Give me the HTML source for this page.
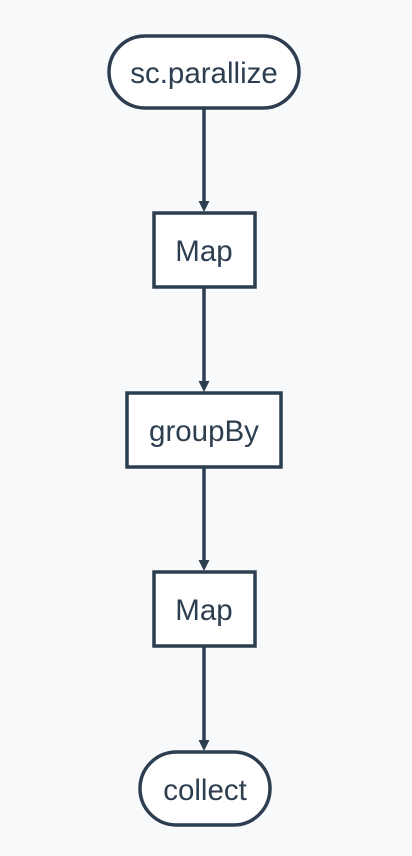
<!DOCTYPE html>
<html><head><style>
html,body{margin:0;padding:0;background:#f8f9fb;}
svg{display:block;}
text{font-family:"Liberation Sans",Arial,sans-serif;font-size:29.5px;fill:#2c3e50;text-anchor:middle;}
</style></head><body>
<svg width="412" height="856" viewBox="0 0 412 856">
<g stroke="#2c3e50" stroke-width="3.5" fill="#fff">
<rect x="109" y="36" width="190" height="72" rx="36"/>
<rect x="154" y="213" width="101" height="74"/>
<rect x="127" y="393" width="154" height="74"/>
<rect x="154" y="572" width="101" height="74"/>
<rect x="140" y="752" width="130" height="73" rx="36.5"/>
</g>
<g stroke="#2c3e50" stroke-width="3.5">
<line x1="204" y1="108" x2="204" y2="202"/>
<line x1="204" y1="287" x2="204" y2="382"/>
<line x1="204" y1="467" x2="204" y2="561"/>
<line x1="204" y1="646" x2="204" y2="741"/>
</g>
<g fill="#2c3e50">
<polygon points="198.5,201 209.5,201 204,212"/>
<polygon points="198.5,381 209.5,381 204,392"/>
<polygon points="198.5,560 209.5,560 204,571"/>
<polygon points="198.5,740 209.5,740 204,751"/>
</g>
<text x="204" y="83">sc.parallize</text>
<text x="204" y="261">Map</text>
<text x="204" y="441">groupBy</text>
<text x="204" y="620">Map</text>
<text x="205" y="800">collect</text>
</svg>
</body></html>
